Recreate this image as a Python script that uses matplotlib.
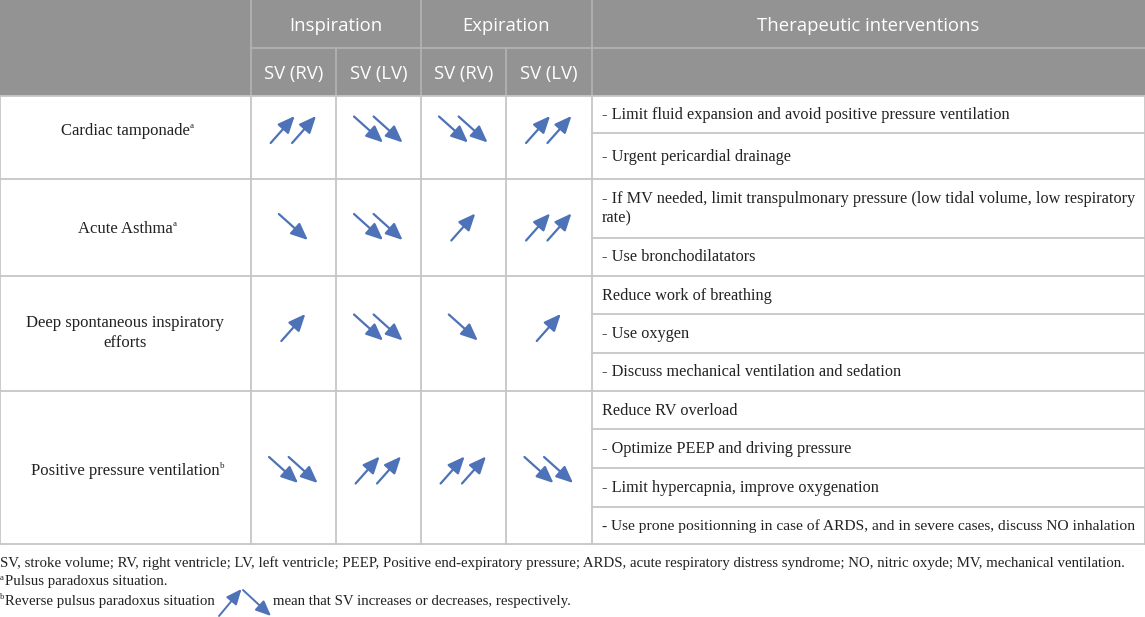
import matplotlib
matplotlib.use("Agg")
import matplotlib.pyplot as plt

# ---------------- data ----------------
group_headers = ["Inspiration", "Expiration"]
sub_headers = ["SV (RV)", "SV (LV)", "SV (RV)", "SV (LV)"]
therapy_header = "Therapeutic interventions"

conditions = ["Cardiac tamponade", "Acute Asthma",
              "Deep spontaneous inspiratory\nefforts", "Positive pressure ventilation"]
condition_notes = ["a", "a", "", "b"]

# arrows: sign = direction (+ increase, - decrease), magnitude = number of arrows
insp_rv = [2, -1, 1, -2]
insp_lv = [-2, -2, -2, 2]
exp_rv = [-2, 1, -1, 2]
exp_lv = [2, 2, 1, -2]

therapies = [
    ["- Limit fluid expansion and avoid positive pressure ventilation",
     "- Urgent pericardial drainage"],
    ["- If MV needed, limit transpulmonary pressure (low tidal volume, low respiratory\nrate)",
     "- Use bronchodilatators"],
    ["Reduce work of breathing", "- Use oxygen",
     "- Discuss mechanical ventilation and sedation"],
    ["Reduce RV overload", "- Optimize PEEP and driving pressure",
     "- Limit hypercapnia, improve oxygenation",
     "- Use prone positionning in case of ARDS, and in severe cases, discuss NO inhalation"],
]

footnote1 = ("SV, stroke volume; RV, right ventricle; LV, left ventricle; PEEP, Positive end-expiratory "
             "pressure; ARDS, acute respiratory distress syndrome; NO, nitric oxyde; MV, mechanical ventilation.")
footnote2 = "Pulsus paradoxus situation."
footnote3a = "Reverse pulsus paradoxus situation"
footnote3b = "mean that SV increases or decreases, respectively."

# ---------------- layout ----------------
W, H = 1145, 617
col_x = [0, 250.7, 336, 420.6, 506, 591.5, 1145]
head_y = [0, 47.7, 95.7]
row_y = [95.7, 179, 276, 391, 544]
sub_y = [[95.7, 133.3, 179], [179, 237.7, 276], [276, 314.3, 352.7, 391],
         [391, 429.3, 468.3, 506.7, 544]]
row_center = [129.5, 227, 327.5, 470]
label_center = [131, 229, 333, 471]

HEAD_BG = "#939393"
HEAD_LINE = "#b4b4b4"
GRID = "#c6c6c6"
ARROW = "#4d72b8"
TXT = "#222222"
SERIF = "Liberation Serif"
SANS = "Open Sans"

fig = plt.figure(figsize=(W / 100, H / 100), dpi=100)
ax = fig.add_axes([0, 0, 1, 1])
ax.set_xlim(0, W)
ax.set_ylim(H, 0)
ax.axis("off")

# header background
ax.fill_between([0, W], 0, head_y[2], color=HEAD_BG, lw=0, zorder=0)
# header lines
ax.plot([col_x[1], W], [head_y[1], head_y[1]], color=HEAD_LINE, lw=1.2)
for x in [col_x[1], col_x[3], col_x[5]]:
    ax.plot([x, x], [0, head_y[2]], color=HEAD_LINE, lw=1.2)
for x in [col_x[2], col_x[4]]:
    ax.plot([x, x], [head_y[1], head_y[2]], color=HEAD_LINE, lw=1.2)

# header texts
HFS = 13.3
ax.text((col_x[1] + col_x[3]) / 2, 26, group_headers[0], ha="center", va="center",
        color="white", fontsize=HFS, family=SANS)
ax.text((col_x[3] + col_x[5]) / 2, 26, group_headers[1], ha="center", va="center",
        color="white", fontsize=HFS, family=SANS)
ax.text((col_x[5] + col_x[6]) / 2, 26, therapy_header, ha="center", va="center",
        color="white", fontsize=HFS, family=SANS)
for i, s in enumerate(sub_headers):
    ax.text((col_x[i + 1] + col_x[i + 2]) / 2, 74, s, ha="center", va="center",
            color="white", fontsize=HFS, family=SANS)

# body grid
for x in col_x[:-1]:
    ax.plot([x, x], [row_y[0], row_y[-1]], color=GRID, lw=1.3)
ax.plot([W - 0.5, W - 0.5], [row_y[0], row_y[-1]], color=GRID, lw=1.3)
for y in row_y:
    ax.plot([0, W], [y, y], color=GRID, lw=1.3)
for subs in sub_y:
    for y in subs[1:-1]:
        ax.plot([col_x[5], W], [y, y], color=GRID, lw=1.3)


def draw_arrow(x0, y0, x1, y1, lw=1.6, ms=16.5):
    ax.annotate("", xy=(x1, y1), xytext=(x0, y0),
                arrowprops=dict(arrowstyle="-|>,head_length=0.62,head_width=0.27",
                                color=ARROW, lw=lw, shrinkA=0, shrinkB=0,
                                mutation_scale=ms))


def draw_cell(cx, cy, v):
    n = abs(v)
    if v > 0:
        offs = [0] if n == 1 else [-10.7, 10.7]
        for o in offs:
            draw_arrow(cx + o - 12, cy + 13.5, cx + o + 12, cy - 13.5)
    else:
        offs = [0] if n == 1 else [-9.8, 9.8]
        for o in offs:
            draw_arrow(cx + o - 14.5, cy - 13, cx + o + 14.5, cy + 13)


fig.canvas.draw()
renderer = fig.canvas.get_renderer()


def fit_text(x, y, s, maxw, fs, **kw):
    t = ax.text(x, y, s, fontsize=fs, **kw)
    w = t.get_window_extent(renderer).width
    if w > maxw:
        t.set_fontsize(fs * maxw / w)
    return t


cols = [insp_rv, insp_lv, exp_rv, exp_lv]
for r in range(len(conditions)):
    cy = row_center[r]
    t = ax.text((col_x[0] + col_x[1]) / 2, label_center[r], conditions[r], ha="center",
                va="center", fontsize=12, family=SERIF, color=TXT, linespacing=1.3)
    if condition_notes[r]:
        ax.annotate(condition_notes[r], xy=(1.0, 1.05), xycoords=t, ha="left", va="top",
                    fontsize=6.5, family=SERIF, color=TXT)
    for c in range(4):
        draw_cell((col_x[c + 1] + col_x[c + 2]) / 2, cy, cols[c][r])
    subs = sub_y[r]
    for k, s in enumerate(therapies[r]):
        fit_text(602, (subs[k] + subs[k + 1]) / 2 + 0.5, s, 1136 - 602, 11.7,
                 ha="left", va="center", family=SERIF, color=TXT, linespacing=1.3)

# footnotes
FFS = 10.75
fit_text(0, 563, footnote1, 1127, FFS, ha="left", va="center", family=SERIF, color=TXT)
ax.text(0, 578, "a", ha="left", va="center", fontsize=6.2, family=SERIF, color=TXT)
ax.text(5, 582, footnote2, ha="left", va="center", fontsize=FFS, family=SERIF, color=TXT)
ax.text(0, 597, "b", ha="left", va="center", fontsize=6.2, family=SERIF, color=TXT)
ax.text(5, 601, footnote3a, ha="left", va="center", fontsize=FFS, family=SERIF, color=TXT)
draw_arrow(219, 616, 241.5, 589, lw=1.4, ms=15)
draw_arrow(243, 590, 271, 616, lw=1.4, ms=15)
ax.text(273, 601, footnote3b, ha="left", va="center", fontsize=FFS, family=SERIF, color=TXT)

fig.savefig("out.png", dpi=100)
